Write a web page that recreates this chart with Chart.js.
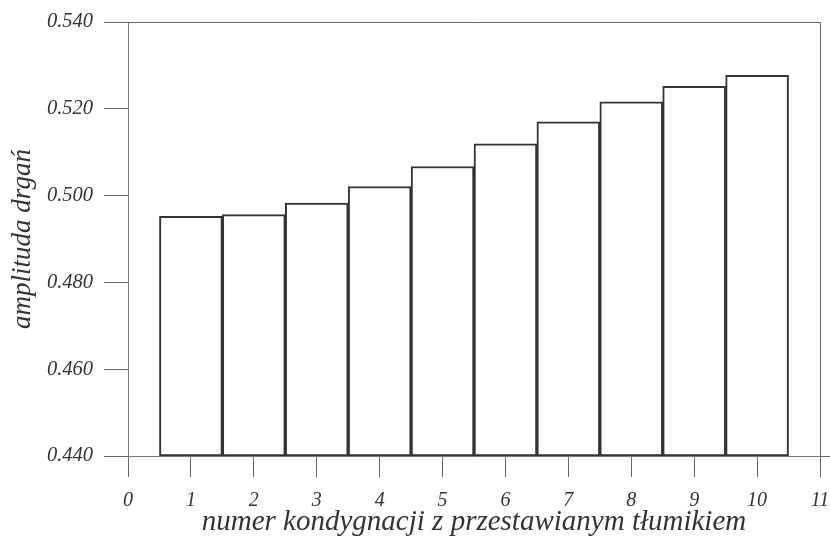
<!DOCTYPE html>
<html>
<head>
<meta charset="utf-8">
<script src="https://cdn.jsdelivr.net/npm/chart.js@4/dist/chart.umd.min.js"></script>
<style>
  html, body { margin: 0; padding: 0; background: #fff; }
  #wrap { width: 830px; height: 538px; position: relative; }
</style>
</head>
<body>
<div id="wrap"><canvas id="c" width="830" height="538"></canvas></div>
<script>
const categories = [1, 2, 3, 4, 5, 6, 7, 8, 9, 10];
const amplitudes = [0.4952, 0.4956, 0.4983, 0.5021, 0.5067, 0.5119, 0.5170, 0.5216, 0.5252, 0.5277];
const yTicks = [0.440, 0.460, 0.480, 0.500, 0.520, 0.540];
const xTicks = [0, 1, 2, 3, 4, 5, 6, 7, 8, 9, 10, 11];
const yBase = 0.440;
const xTitle = 'numer kondygnacji z przestawianym tłumikiem';
const yTitle = 'amplituda drgań';

const FONT = "'Liberation Serif', 'DejaVu Serif', serif";
const TEXT = '#333333';

const framePlugin = {
  id: 'frame',
  afterDraw(chart) {
    const { ctx, chartArea: a } = chart;
    ctx.save();
    ctx.strokeStyle = '#666666';
    ctx.lineWidth = 1;
    ctx.beginPath();
    ctx.moveTo(a.left, a.top + 0.5);
    ctx.lineTo(a.right + 0.5, a.top + 0.5);
    ctx.lineTo(a.right + 0.5, a.bottom);
    ctx.moveTo(a.right, a.bottom + 0.5);
    ctx.lineTo(chart.width, a.bottom + 0.5);
    ctx.stroke();
    ctx.restore();
  }
};

new Chart(document.getElementById('c'), {
  type: 'bar',
  data: {
    datasets: [{
      data: categories.map((c, i) => ({ x: c, y: [yBase, amplitudes[i]] })),
      backgroundColor: '#ffffff',
      borderColor: '#333333',
      borderWidth: 2,
      borderSkipped: false,
      barPercentage: 1,
      categoryPercentage: 1
    }]
  },
  options: {
    responsive: false,
    animation: false,
    layout: { padding: { top: 22, right: 10, left: 0, bottom: 0 } },
    plugins: { legend: { display: false }, tooltip: { enabled: false } },
    scales: {
      x: {
        type: 'linear',
        min: 0,
        max: 11,
        offset: false,
        afterBuildTicks(scale) { scale.ticks = xTicks.map(v => ({ value: v })); },
        afterFit(scale) { scale.height = 82; scale.paddingLeft = 0; scale.paddingRight = 0; },
        grid: { display: true, offset: false, drawOnChartArea: false, drawTicks: true, tickLength: 21, color: '#666666', lineWidth: 1 },
        border: { display: true, color: '#777777', width: 1 },
        ticks: {
          color: TEXT,
          padding: 12,
          maxRotation: 0,
          autoSkip: false,
          font: { family: FONT, style: 'italic', size: 20 },
          callback: v => String(v)
        },
        title: {
          display: true,
          text: xTitle,
          color: TEXT,
          padding: { top: 0, bottom: -1.5 },
          font: { family: FONT, style: 'italic', size: 29 }
        }
      },
      y: {
        min: 0.44,
        max: 0.54,
        afterBuildTicks(scale) { scale.ticks = yTicks.map(v => ({ value: v })); },
        afterFit(scale) { scale.width = 128; scale.paddingTop = 0; scale.paddingBottom = 0; },
        grid: { display: true, drawOnChartArea: false, drawTicks: true, tickLength: 24, color: '#666666', lineWidth: 1 },
        border: { display: true, color: '#777777', width: 1 },
        ticks: {
          color: TEXT,
          padding: 11,
          font: { family: FONT, style: 'italic', size: 20.5 },
          callback: v => Number(v).toFixed(3)
        },
        title: {
          display: true,
          text: yTitle,
          color: TEXT,
          padding: { top: 7, bottom: 0 },
          font: { family: FONT, style: 'italic', size: 27 }
        }
      }
    }
  },
  plugins: [framePlugin]
});
</script>
</body>
</html>
